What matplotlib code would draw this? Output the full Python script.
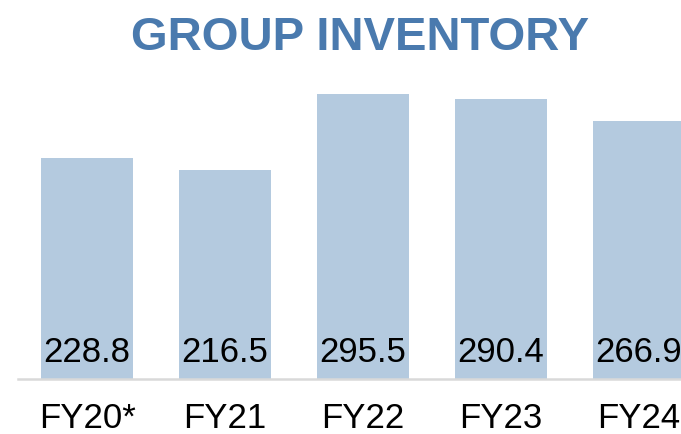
import matplotlib
matplotlib.use("Agg")
import matplotlib.pyplot as plt

plt.rcParams["font.family"] = ["Liberation Sans", "DejaVu Sans"]

years = ["FY20*", "FY21", "FY22", "FY23", "FY24"]
inventory = [228.8, 216.5, 295.5, 290.4, 266.9]

W, H = 681, 435
fig = plt.figure(figsize=(W / 100, H / 100), dpi=100)
# axes: left edge at the baseline start, right part runs off the figure (FY24 is clipped)
ax = fig.add_axes([18 / W, 55 / H, (W - 18) / W, 320 / H])
x = range(len(years))
ax.bar(x, inventory, width=0.667, color="#b4cadf", zorder=2)
ax.set_xlim(-0.5, (W - 87) / 138)
ax.set_ylim(0, 320 / 0.965)
for xi, v in zip(x, inventory):
    ax.text(xi, 29, f"{v:.1f}", ha="center", va="center", fontsize=25, color="#000000", zorder=3)
ax.axhline(0, color="#d9d9d9", lw=1.8, zorder=4, clip_on=False)
ax.set_xticks(list(x))
ax.set_xticklabels(years, fontsize=25)
ax.tick_params(axis="x", length=0, pad=16)
ax.set_yticks([])
for s in ax.spines.values():
    s.set_visible(False)

fig.text(360 / W, 1 - 38 / H, "GROUP INVENTORY", ha="center", va="center",
         fontsize=34, fontweight="bold", color="#4a7aae")

fig.savefig("out.png", dpi=100)
